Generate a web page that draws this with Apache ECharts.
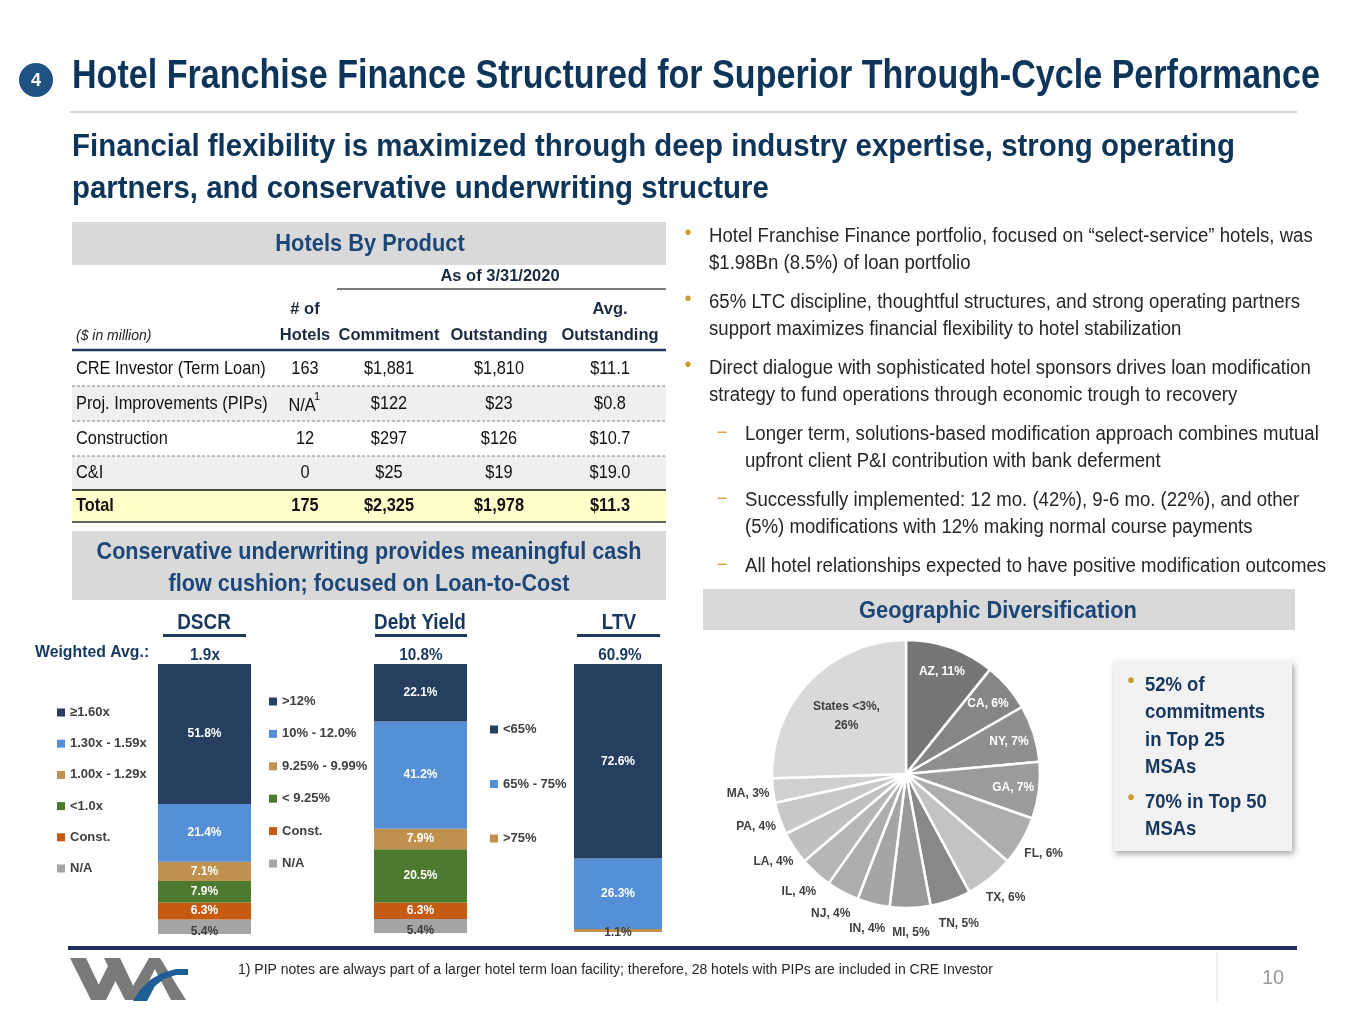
<!DOCTYPE html>
<html><head><meta charset="utf-8">
<script src="https://cdn.jsdelivr.net/npm/echarts@6/dist/echarts.min.js"></script>
<style>html,body{margin:0;padding:0;background:#fff}#c{width:1365px;height:1024px}</style>
</head><body><div id="c"></div>
<script>
const FONT = "'Liberation Sans',Arial,sans-serif";

// ---- table data ----
const tableRows = ['CRE Investor (Term Loan)', 'Proj. Improvements (PIPs)', 'Construction', 'C&I', 'Total'];
const tableHotels = ['163', 'N/A', '12', '0', '175'];
const tableCommitment = ['$1,881', '$122', '$297', '$25', '$2,325'];
const tableOutstanding = ['$1,810', '$23', '$126', '$19', '$1,978'];
const tableAvg = ['$11.1', '$0.8', '$10.7', '$19.0', '$11.3'];

// ---- stacked bars (bottom to top) ----
const dscrCategories = ['N/A', 'Const.', '<1.0x', '1.00x - 1.29x', '1.30x - 1.59x', '≥1.60x'];
const dscrValues = [5.4, 6.3, 7.9, 7.1, 21.4, 51.8];
const dyCategories = ['N/A', 'Const.', '< 9.25%', '9.25% - 9.99%', '10% - 12.0%', '>12%'];
const dyValues = [5.4, 6.3, 20.5, 7.9, 41.2, 22.1];
const ltvCategories = ['>75%', '65% - 75%', '<65%'];
const ltvValues = [1.1, 26.3, 72.6];
const barTitles = ['DSCR', 'Debt Yield', 'LTV'];
const weightedAvg = ['1.9x', '10.8%', '60.9%'];

// ---- pie ----
const geoStates = ['AZ', 'CA', 'NY', 'GA', 'FL', 'TX', 'TN', 'MI', 'IN', 'NJ', 'IL', 'LA', 'PA', 'MA', 'States <3%'];
const geoShares = [11, 6, 7, 7, 6, 6, 5, 5, 4, 4, 4, 4, 4, 3, 26];

// ---- texts ----
const bulletLines = [
  [0, true, 'Hotel Franchise Finance portfolio, focused on “select-service” hotels, was'],
  [0, false, '$1.98Bn (8.5%) of loan portfolio'],
  [0, true, '65% LTC discipline, thoughtful structures, and strong operating partners'],
  [0, false, 'support maximizes financial flexibility to hotel stabilization'],
  [0, true, 'Direct dialogue with sophisticated hotel sponsors drives loan modification'],
  [0, false, 'strategy to fund operations through economic trough to recovery'],
  [1, true, 'Longer term, solutions-based modification approach combines mutual'],
  [1, false, 'upfront client P&I contribution with bank deferment'],
  [1, true, 'Successfully implemented: 12 mo. (42%), 9-6 mo. (22%), and other'],
  [1, false, '(5%) modifications with 12% making normal course payments'],
  [1, true, 'All hotel relationships expected to have positive modification outcomes']
];
const bulletY = [236, 263, 302, 329, 368, 395, 434, 461, 500, 527, 566];
const titleText = 'Hotel Franchise Finance Structured for Superior Through-Cycle Performance';
const subtitleLines = ['Financial flexibility is maximized through deep industry expertise, strong operating', 'partners, and conservative underwriting structure'];

const NAVY = '#0d3459';
const HEAD = '#1b4677';
const GOLD = '#c99a2e';
const segColors = ['#a5a5a5', '#c55a11', '#4e7a30', '#c0914f', '#5590d6', '#263e5f'];
const ltvColors = ['#c0914f', '#5590d6', '#263e5f'];
const pieColors = ['#767676', '#868686', '#8f8f8f', '#9b9b9b', '#adadad', '#c3c3c3', '#888888', '#9a9a9a', '#a5a5a5', '#adadad', '#b6b6b6', '#c0c0c0', '#c8c8c8', '#d0d0d0', '#d9d9d9'];
const pieInner = ['AZ', 'CA', 'NY', 'GA'];
const pieCenterLabel = ['States <3%'];

const mctx = document.createElement('canvas').getContext('2d');
function fontStr(size, weight, italic) { return (italic ? 'italic ' : '') + (weight || 'normal') + ' ' + size + 'px ' + FONT; }
function fitScale(text, size, weight, target) { mctx.font = fontStr(size, weight); return target / mctx.measureText(text).width; }

function T(x, y, text, size, weight, color, align, sx, italic) {
  return { type: 'text', x: x, y: y, scaleX: sx || 1, silent: true, z: 10,
    style: { text: text, font: fontStr(size, weight, italic), fill: color || '#222', align: align || 'left', verticalAlign: 'middle',
             textAlign: align || 'left', textVerticalAlign: 'middle' } };
}
function R(x, y, w, h, fill, style) {
  return { type: 'rect', silent: true, z: 1, shape: { x: x, y: y, width: w, height: h }, style: Object.assign({ fill: fill }, style || {}) };
}
function L(x1, y1, x2, y2, color, w, dash) {
  return { type: 'line', silent: true, z: 5, shape: { x1: x1, y1: y1, x2: x2, y2: y2 }, style: { stroke: color, lineWidth: w, lineDash: dash || null } };
}
function P(points, fill) { return { type: 'polygon', silent: true, z: 5, shape: { points: points }, style: { fill: fill } }; }

const g = [];
// header
g.push({ type: 'circle', silent: true, shape: { cx: 36, cy: 80, r: 17 }, style: { fill: '#1d5282' } });
g.push(T(36, 81, '4', 18, 'bold', '#fff', 'center'));
g.push(T(72, 77, titleText, 40, 'bold', NAVY, 'left', fitScale(titleText, 40, 'bold', 1248)));
g.push(L(70, 112, 1297, 112, '#c8c8c8', 1.5));
const subSx = fitScale(subtitleLines[0], 32, 'bold', 1163);
g.push(T(72, 147, subtitleLines[0], 32, 'bold', NAVY, 'left', subSx));
g.push(T(72, 189, subtitleLines[1], 32, 'bold', NAVY, 'left', subSx));

// table
const TB = 0.86, TH = 0.97;
g.push(R(72, 222, 594, 43, '#d9d9d9'));
g.push(T(370, 244, 'Hotels By Product', 24, 'bold', HEAD, 'center', 0.91));
g.push(T(500, 276, 'As of 3/31/2020', 17, 'bold', '#1a2a40', 'center', TH));
g.push(L(337, 289, 666, 289, '#505050', 1.5));
g.push(T(305, 309, '# of', 17, 'bold', '#1a2a40', 'center', TH));
g.push(T(610, 309, 'Avg.', 17, 'bold', '#1a2a40', 'center', TH));
g.push(T(305, 335, 'Hotels', 17, 'bold', '#1a2a40', 'center', TH));
g.push(T(389, 335, 'Commitment', 17, 'bold', '#1a2a40', 'center', TH));
g.push(T(499, 335, 'Outstanding', 17, 'bold', '#1a2a40', 'center', TH));
g.push(T(610, 335, 'Outstanding', 17, 'bold', '#1a2a40', 'center', TH));
g.push(T(76, 336, '($ in million)', 14, 'normal', '#222', 'left', 1, true));
g.push(L(72, 350, 666, 350, '#243a5c', 2.5));
const rowTop = [351, 386, 421, 456, 490];
const rowH = [35, 35, 35, 34, 32];
const rowBg = ['#ffffff', '#efefef', '#ffffff', '#efefef', '#ffffcc'];
tableRows.forEach(function (lab, i) {
  const yc = rowTop[i] + rowH[i] / 2;
  const w = i === 4 ? 'bold' : 'normal';
  g.push(R(72, rowTop[i], 594, rowH[i], rowBg[i]));
  g.push(T(76, yc, lab, 19, w, '#111', 'left', TB));
  g.push(T(i === 1 ? 302 : 305, yc + (i === 1 ? 2 : 0), tableHotels[i], 19, w, '#111', 'center', TB));
  g.push(T(389, yc, tableCommitment[i], 19, w, '#111', 'center', TB));
  g.push(T(499, yc, tableOutstanding[i], 19, w, '#111', 'center', TB));
  g.push(T(610, yc, tableAvg[i], 19, w, '#111', 'center', TB));
  if (i > 0 && i < 4) g.push(L(72, rowTop[i], 666, rowTop[i], '#808080', 1, [3, 2]));
});
g.push(T(317, 397, '1', 11, 'normal', '#111', 'center'));
g.push(L(72, 490, 666, 490, '#111', 1.5));
g.push(L(72, 522, 666, 522, '#333', 1.5));

// conservative box
g.push(R(72, 531, 594, 69, '#d9d9d9'));
g.push(T(369, 552, 'Conservative underwriting provides meaningful cash', 24, 'bold', HEAD, 'center', 0.9));
g.push(T(369, 584, 'flow cushion; focused on Loan-to-Cost', 24, 'bold', HEAD, 'center', 0.9));

// bar titles
const titleX = [204, 420, 619];
const ulX = [[163, 246], [375, 467], [577, 660]];
barTitles.forEach(function (t, i) {
  g.push(T(titleX[i], 623, t, 22, 'bold', '#17375e', 'center', 0.86));
  g.push(R(ulX[i][0], 634, ulX[i][1] - ulX[i][0], 3, '#1f3a5f'));
  g.push(T(titleX[i] + 1, 655, weightedAvg[i], 17, 'bold', '#17375e', 'center', 0.9));
});
g.push(T(35, 652, 'Weighted Avg.:', 17, 'bold', '#17375e', 'left', 0.93));

// right bullets
bulletLines.forEach(function (b, i) {
  const lvl = b[0], x = lvl === 0 ? 709 : 745;
  if (b[1]) {
    if (lvl === 0) g.push(T(688, bulletY[i] - 3, '•', 20, 'normal', GOLD, 'center'));
    else g.push(T(722, bulletY[i] - 1, '−', 18, 'normal', GOLD, 'center'));
  }
  g.push(T(x, bulletY[i], b[2], 20, 'normal', '#262626', 'left', 0.93));
});

// geo header
g.push(R(703, 589, 592, 41, '#d9d9d9'));
g.push(T(998, 611, 'Geographic Diversification', 24, 'bold', HEAD, 'center', 0.91));

// callout
g.push(R(1113, 661, 179, 190, '#f2f2f2', { shadowBlur: 6, shadowColor: 'rgba(0,0,0,0.35)', shadowOffsetX: 2, shadowOffsetY: 3 }));
const callLines = [[true, '52% of', 685], [false, 'commitments', 712], [false, 'in Top 25', 740], [false, 'MSAs', 767], [true, '70% in Top 50', 802], [false, 'MSAs', 829]];
callLines.forEach(function (c) {
  if (c[0]) g.push(T(1131, c[2] - 4, '•', 20, 'bold', GOLD, 'center'));
  g.push(T(1145, c[2], c[1], 21, 'bold', '#17375e', 'left', 0.88));
});

// footer
g.push(R(68, 946, 1229, 4, '#1a2f5a'));
g.push(L(1217, 952, 1217, 1002, '#e6e6e6', 1));
g.push(T(238, 970, '1) PIP notes are always part of a larger hotel term loan facility; therefore, 28 hotels with PIPs are included in CRE Investor', 14, 'normal', '#262626'));
g.push(T(1273, 978, '10', 20, 'normal', '#9a9a9a', 'center'));
// logo
const logoGray = '#7a7a7a';
g.push(P([[70, 958], [86, 958], [106, 1000], [91, 1000]], logoGray));
g.push(P([[91, 1000], [106, 1000], [119, 974], [111, 960]], logoGray));
g.push(P([[104, 958], [120, 958], [140, 1000], [125, 1000]], logoGray));
g.push(P([[125, 1000], [140, 1000], [160, 958], [149, 958]], logoGray));
g.push(P([[149, 958], [160, 958], [186, 1000], [171, 1000]], logoGray));
g.push(P([[133, 1001], [140, 990], [150, 980], [162, 973], [176, 969], [188, 969], [188, 975], [176, 975], [164, 979], [155, 986], [147, 1001]], '#1f5f96'));

// ---- charts ----
function barSeries(cats, vals, colors, idx, darkIdx, darkOff) {
  return cats.map(function (c, i) {
    return {
      type: 'bar', name: c, xAxisIndex: idx, yAxisIndex: idx, stack: 's' + idx,
      data: [vals[i]], barWidth: '100%', itemStyle: { color: colors[i] },
      label: { show: true, position: 'inside', formatter: function (p) { return p.value.toFixed(1) + '%'; },
        color: i === darkIdx ? '#3f3f3f' : '#ffffff', fontWeight: 'bold', fontSize: 12, fontFamily: FONT,
        offset: i === darkIdx ? darkOff : [0, 0] },
      emphasis: { disabled: true }
    };
  });
}
function sum(a) { return a.reduce(function (s, v) { return s + v; }, 0); }

const grids = [
  { left: 158, top: 664, width: 93, height: 270 },
  { left: 374, top: 664, width: 93, height: 269 },
  { left: 574, top: 664, width: 88, height: 268 }
];
const sums = [sum(dscrValues), sum(dyValues), sum(ltvValues)];
const legendBase = { orient: 'vertical', padding: 0, itemWidth: 8, itemHeight: 8, icon: 'rect', selectedMode: false,
  textStyle: { fontSize: 13, fontWeight: 'bold', color: '#3f3f3f', fontFamily: FONT } };

const pieData = geoStates.map(function (s, i) { return { name: s, value: geoShares[i], itemStyle: { color: pieColors[i] } }; });
function pieFmt(p) { return p.name.indexOf(' ') >= 0 ? p.name + ',\n' + p.value + '%' : p.name + ', ' + p.value + '%'; }
function labelPie(radius, list, color) {
  return {
    type: 'pie', center: [906, 774], radius: radius, startAngle: 90, clockwise: true, silent: true, z: 5,
    avoidLabelOverlap: false, labelLayout: { hideOverlap: false, moveOverlap: null },
    itemStyle: { color: 'rgba(0,0,0,0)', borderWidth: 0 },
    labelLine: { show: false },
    data: geoStates.map(function (s, i) {
      return { name: s, value: geoShares[i],
        label: { show: list.indexOf(s) >= 0, position: 'inside', formatter: pieFmt, fontSize: 12, fontWeight: 'bold', fontFamily: FONT,
                 lineHeight: 19, color: color } };
    })
  };
}
const pieOuter = geoStates.filter(function (s) { return pieInner.indexOf(s) < 0 && pieCenterLabel.indexOf(s) < 0; });

const option = {
  animation: false,
  graphic: { elements: g },
  grid: grids,
  xAxis: grids.map(function (gr, i) { return { type: 'category', gridIndex: i, data: [barTitles[i]], show: false }; }),
  yAxis: grids.map(function (gr, i) { return { type: 'value', gridIndex: i, min: 0, max: sums[i], show: false }; }),
  legend: [
    Object.assign({}, legendBase, { left: 57, top: 706, itemGap: 18.2, data: dscrCategories.slice().reverse() }),
    Object.assign({}, legendBase, { left: 269, top: 695, itemGap: 19.4, data: dyCategories.slice().reverse() }),
    Object.assign({}, legendBase, { left: 490, top: 723, itemGap: 41.5, data: ltvCategories.slice().reverse() })
  ],
  series: [].concat(
    barSeries(dscrCategories, dscrValues, segColors, 0, 0, [0, 5]),
    barSeries(dyCategories, dyValues, segColors, 1, 0, [0, 5]),
    barSeries(ltvCategories, ltvValues, ltvColors, 2, 0, [0, 2]),
    [{
      type: 'pie', center: [906, 774], radius: 134, startAngle: 90, clockwise: true, silent: true,
      avoidLabelOverlap: false,
      itemStyle: { borderColor: '#ffffff', borderWidth: 2.5 },
      label: { show: false }, labelLine: { show: false },
      data: pieData
    },
    labelPie([64, 146], pieInner, '#ffffff'),
    labelPie([30, 130], pieCenterLabel, '#3f3f3f'),
    labelPie([136, 176], pieOuter, '#3f3f3f')]
  )
};
const chart = echarts.init(document.getElementById('c'), null, { renderer: 'canvas' });
chart.setOption(option);
</script>
</body></html>
